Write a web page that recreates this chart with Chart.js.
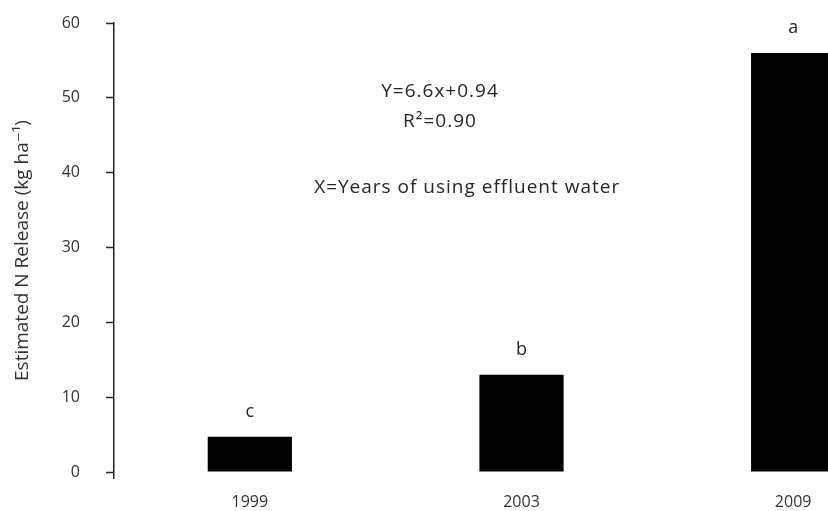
<!DOCTYPE html>
<html lang="en">
<head>
    <meta charset="UTF-8">
    <title>Estimated N Release</title>
    <style>
        html, body { margin: 0; padding: 0; overflow: hidden; background: #fff; }
        /* the plot runs past the right edge of the window, like the original figure */
        #wrap { position: relative; width: 932px; height: 511px; }
    </style>
</head>
<body>
    <div id="wrap"><canvas id="myChart"></canvas></div>

    <script src="https://cdn.jsdelivr.net/npm/chart.js"></script>
    <script>
        // datos
        const years = ['1999', '2003', '2009']
        const release = [4.7, 13.0, 56.0]
        const letters = ['c', 'b', 'a']
        const yTicks = [0, 10, 20, 30, 40, 50, 60]
        const equation = ['Y=6.6x+0.94', 'R²=0.90']
        const note = 'X=Years of using effluent water'

        const font = '"Open Sans", "DejaVu Sans", sans-serif'

        // letras sobre las barras y texto de la regresion
        const textPlugin = {
            id: 'textPlugin',
            afterDatasetsDraw(chart) {
                const ctx = chart.ctx
                const x = chart.scales.x
                const y = chart.scales.y
                ctx.save()
                ctx.fillStyle = '#262626'
                ctx.textAlign = 'center'
                ctx.textBaseline = 'middle'
                ctx.font = '18px ' + font
                chart.getDatasetMeta(0).data.forEach((bar, i) => {
                    ctx.fillText(letters[i], bar.x, bar.y - 25)
                })
                ctx.font = '19px ' + font
                ctx.letterSpacing = '1px'
                ctx.fillText(equation[0], x.getPixelForValue(0.7), y.getPixelForValue(50.8))
                ctx.fillText(equation[1], x.getPixelForValue(0.7), y.getPixelForValue(46.8))
                ctx.fillText(note, x.getPixelForValue(0.8), y.getPixelForValue(38.0))
                ctx.restore()
            }
        }

        const ctx = document.getElementById('myChart')
        new Chart(ctx, {
            type: 'bar',
            data: {
                labels: years,
                datasets: [{
                    data: release,
                    backgroundColor: '#000',
                    borderWidth: 0,
                    categoryPercentage: 1,
                    barPercentage: 0.31
                }]
            },
            options: {
                responsive: true,
                maintainAspectRatio: false,
                animation: false,
                layout: { padding: { top: 23, right: 3, left: 0, bottom: 0 } },
                plugins: {
                    legend: { display: false },
                    tooltip: { enabled: false }
                },
                scales: {
                    x: {
                        grid: { display: false, drawTicks: false },
                        border: { display: false },
                        ticks: { color: '#333', padding: 15, font: { size: 16, family: font } },
                        afterFit: (scale) => { scale.height = 33 }
                    },
                    y: {
                        min: -0.8,
                        max: 60,
                        afterBuildTicks: (scale) => { scale.ticks = yTicks.map(v => ({ value: v })) },
                        grid: { drawOnChartArea: false, tickLength: 8, tickColor: '#222', tickWidth: 1.5 },
                        border: { color: '#222', width: 1.5 },
                        ticks: { color: '#333', padding: 26, font: { size: 16, family: font } },
                        title: {
                            display: true,
                            text: 'Estimated N Release (kg ha⁻¹)',
                            color: '#333',
                            padding: { top: 11, bottom: 0 },
                            font: { size: 19, family: font }
                        },
                        afterFit: (scale) => {
                            scale.width = 114
                            // the tick padding would otherwise push the plot down
                            scale.paddingTop = 10
                            scale.paddingBottom = 10
                        }
                    }
                }
            },
            plugins: [textPlugin]
        })
    </script>
</body>
</html>
